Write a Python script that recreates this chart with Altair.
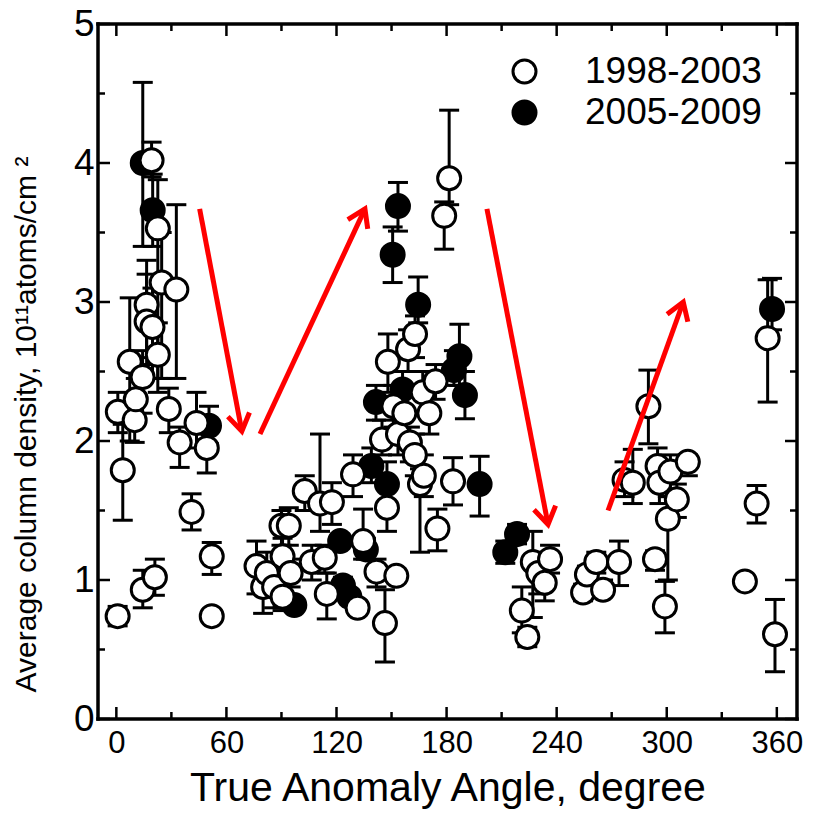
import math
import altair as alt
import pandas as pd

# ---------------- data ----------------
# 1998-2003 (open circles)
open_x = [0.7, 0.8, 3.5, 7.3, 10.0, 10.6, 14.3, 14.4, 16.5, 16.5, 19.2, 19.7, 21.0, 22.6, 22.6,
          24.7, 28.6, 32.7, 34.5, 41.0, 43.7, 49.3, 52.0, 52.0, 76.4, 80.0, 82.0, 86.0, 90.0,
          90.6, 90.6, 94.0, 95.0, 102.7, 106.5, 111.0, 113.6, 114.7, 117.5, 129.0, 131.5, 134.5,
          141.8, 144.8, 146.4, 147.5, 148.0, 151.0, 152.6, 153.5, 157.0, 159.0, 160.0, 162.7,
          162.8, 165.5, 167.0, 167.6, 170.6, 174.0, 175.0, 178.7, 181.4, 183.5, 221.0, 224.0,
          227.0, 230.0, 233.5, 236.4, 254.4, 256.5, 261.6, 265.3, 274.0, 277.0, 281.5, 290.0,
          293.6, 295.0, 296.0, 299.0, 300.6, 302.0, 305.5, 311.5, 342.6, 349.0, 355.0, 359.0]
open_y = [0.74, 2.21, 1.79, 2.57, 2.15, 2.30, 2.46, 0.93, 2.98, 2.86, 4.02, 2.82, 1.02, 3.53, 2.62,
          3.14, 2.23, 3.09, 1.99, 1.49, 2.13, 1.95, 1.17, 0.74, 1.10, 0.95, 1.05, 0.95, 1.39,
          1.17, 0.88, 1.39, 1.05, 1.64, 1.13, 1.55, 1.16, 0.90, 1.56, 1.76, 0.80, 1.28,
          1.06, 2.01, 0.69, 1.52, 2.57, 2.25, 1.03, 2.05, 2.20, 2.66, 1.99, 1.90,
          2.77, 1.69, 2.35, 1.75, 2.20, 2.43, 1.37, 3.62, 3.89, 1.71, 0.78, 0.59,
          1.13, 1.05, 0.98, 1.15, 0.91, 1.04, 1.13, 0.93, 1.13, 1.72, 1.70, 2.25,
          1.15, 1.82, 1.70, 0.81, 1.44, 1.78, 1.58, 1.85, 0.99, 1.55, 2.74, 0.61]
open_lo = [0.67, 2.06, 1.43, 2.00, 1.99, 2.15, 2.20, 0.80, 2.60, 2.55, 3.90, 2.45, 0.89, 2.45, 2.35,
           2.45, 2.06, 2.45, 1.81, 1.36, 1.95, 1.77, 1.04, 0.71, 0.90, 0.76, 0.90, 0.80, 1.25,
           1.05, 0.78, 1.25, 0.95, 1.50, 1.00, 1.35, 1.05, 0.72, 1.40, 1.60, 0.75, 1.15,
           0.95, 1.90, 0.41, 1.35, 2.35, 2.10, 0.98, 1.90, 2.05, 2.50, 1.85, 1.75,
           2.60, 1.20, 2.20, 1.60, 2.05, 2.30, 1.21, 3.38, 3.70, 1.54, 0.62, 0.52,
           0.73, 0.90, 0.85, 1.05, 0.85, 0.95, 1.05, 0.88, 0.96, 1.60, 1.55, 1.98,
           1.07, 1.70, 1.55, 0.62, 1.00, 1.60, 1.45, 1.75, 0.96, 1.41, 2.28, 0.34]
open_hi = [0.81, 2.35, 2.12, 3.03, 2.30, 2.45, 2.65, 1.07, 3.30, 3.20, 4.15, 3.10, 1.15, 3.88, 2.85,
           3.50, 2.38, 3.70, 2.10, 1.62, 2.35, 2.10, 1.27, 0.77, 1.28, 1.10, 1.20, 1.10, 1.50,
           1.30, 1.00, 1.52, 1.15, 1.75, 1.25, 2.05, 1.25, 1.05, 1.70, 1.90, 0.85, 1.51,
           1.15, 2.15, 0.93, 1.70, 2.77, 2.40, 1.08, 2.20, 2.35, 2.80, 2.10, 2.05,
           2.90, 1.80, 2.50, 1.90, 2.35, 2.55, 1.51, 3.72, 4.38, 1.88, 0.95, 0.66,
           1.35, 1.20, 1.10, 1.25, 0.97, 1.10, 1.20, 1.00, 1.28, 1.85, 1.94, 2.51,
           1.21, 1.95, 1.85, 0.99, 1.60, 1.90, 1.69, 1.90, 1.02, 1.68, 3.16, 0.86]

# 2005-2009 (filled circles)
filled_x = [14.4, 19.8, 50.5, 97.0, 122.0, 123.5, 127.0, 136.0, 139.0, 141.5, 147.5, 150.6,
            153.5, 156.0, 164.5, 184.0, 187.0, 190.0, 198.0, 212.0, 218.4, 357.4]
filled_y = [4.00, 3.66, 2.11, 0.82, 1.28, 0.96, 0.88, 1.22, 1.82, 2.28, 1.69, 3.34,
            3.69, 2.37, 2.98, 2.51, 2.61, 2.33, 1.69, 1.20, 1.33, 2.95]
filled_lo = [3.40, 3.40, 1.98, 0.79, 1.23, 0.90, 0.83, 1.15, 1.70, 2.15, 1.55, 3.14,
             3.51, 2.25, 2.85, 2.40, 2.40, 2.16, 1.46, 1.12, 1.26, 2.80]
filled_hi = [4.58, 3.92, 2.25, 0.85, 1.33, 1.02, 0.93, 1.30, 1.95, 2.40, 1.85, 3.54,
             3.86, 2.50, 3.18, 2.65, 2.84, 2.50, 1.89, 1.28, 1.40, 3.17]

series_names = ["1998-2003", "2005-2009"]

# red trend arrows (start -> tip), in data units
arrow_x0 = [45.4, 78.3, 202.0, 268.0]
arrow_y0 = [3.67, 2.05, 3.67, 1.50]
arrow_x1 = [68.4, 135.5, 235.3, 309.0]
arrow_y1 = [2.07, 3.67, 1.40, 3.00]

x_major = [0, 60, 120, 180, 240, 300, 360]
x_minor = [30, 90, 150, 210, 270, 330]
y_major = [0, 1, 2, 3, 4, 5]
y_minor = [0.5, 1.5, 2.5, 3.5, 4.5]

# ---------------- layout ----------------
W, H = 699, 695
XD = [-10, 371]
YD = [0, 5]
FONT = "Liberation Sans, Arial"

x_axis = alt.Axis(values=x_major, ticks=False, domain=False, grid=False,
                  labelFont=FONT, labelFontSize=31, labelPadding=9, labelColor="black",
                  title="True Anomaly Angle, degree", titleFont=FONT, titleFontSize=41,
                  titleFontWeight="normal", titleColor="black", titleY=81,
                  titleBaseline="alphabetic")
y_axis = alt.Axis(values=y_major, ticks=False, domain=False, grid=False,
                  labelFont=FONT, labelFontSize=37, labelPadding=4, labelColor="black",
                  labelBaseline="middle",
                  title="Average column density, 10\u00b9\u00b9atoms/cm \u00b2",
                  titleFont=FONT, titleFontSize=30, titleFontWeight="normal",
                  titleColor="black", titleAngle=270, titleX=-72, titleY=400,
                  titleAlign="center", titleBaseline="middle")

xs = alt.Scale(domain=XD, nice=False, zero=False)
ys = alt.Scale(domain=YD, nice=False, zero=False)


def X(f="x"):
    return alt.X(f"{f}:Q", scale=xs, axis=x_axis)


def Y(f="y"):
    return alt.Y(f"{f}:Q", scale=ys, axis=y_axis)


df_open = pd.DataFrame({"x": open_x, "y": open_y, "lo": open_lo, "hi": open_hi,
                        "series": series_names[0]})
df_fill = pd.DataFrame({"x": filled_x, "y": filled_y, "lo": filled_lo, "hi": filled_hi,
                        "series": series_names[1]})

fill_enc = alt.Fill("series:N",
                    scale=alt.Scale(domain=series_names, range=["white", "black"]),
                    legend=alt.Legend(title=None, orient="none", legendX=408, legendY=29,
                                      labelFont=FONT, labelFontSize=37, labelColor="black",
                                      labelLimit=0,
                                      symbolType="circle", symbolSize=530,
                                      symbolStrokeWidth=3, symbolStrokeColor="black",
                                      labelOffset=42, rowPadding=3, padding=0))


def series_layers(df):
    bars = alt.Chart(df).mark_rule(stroke="black", strokeWidth=3).encode(
        x=X(), y=Y("lo"), y2="hi:Q")
    cap_lo = alt.Chart(df).mark_tick(color="black", thickness=3, size=20,
                                     orient="horizontal", opacity=1).encode(x=X(), y=Y("lo"))
    cap_hi = alt.Chart(df).mark_tick(color="black", thickness=3, size=20,
                                     orient="horizontal", opacity=1).encode(x=X(), y=Y("hi"))
    pts = alt.Chart(df).mark_point(shape="circle", filled=True, size=530, stroke="black",
                                   strokeWidth=3, opacity=1).encode(
        x=X(), y=Y(), fill=fill_enc)
    return [bars, cap_lo, cap_hi, pts]


# arrows
sx = W / (XD[1] - XD[0])
sy = H / (YD[1] - YD[0])
angles = []
for a, b, c, d in zip(arrow_x0, arrow_y0, arrow_x1, arrow_y1):
    dx = (c - a) * sx
    dy = -(d - b) * sy
    angles.append(math.degrees(math.atan2(dx, -dy)) % 360)
df_arrow = pd.DataFrame({"x0": arrow_x0, "y0": arrow_y0, "x1": arrow_x1, "y1": arrow_y1,
                         "ang": angles})
shaft = alt.Chart(df_arrow).mark_rule(stroke="#ff0000", strokeWidth=5).encode(
    x=X("x0"), y=Y("y0"), x2="x1:Q", y2="y1:Q")
head = alt.Chart(df_arrow).mark_point(shape="M-0.55,0.85L0,0L0.55,0.85", filled=False,
                                      stroke="#ff0000", strokeWidth=5, size=1600,
                                      opacity=1).encode(
    x=X("x1"), y=Y("y1"), angle=alt.Angle("ang:Q", scale=None))

# frame ticks (inward)
df_xM = pd.DataFrame({"x": x_major})
df_xm = pd.DataFrame({"x": x_minor})
df_yM = pd.DataFrame({"y": y_major})
df_ym = pd.DataFrame({"y": y_minor})
tick_layers = []
for dfx, L in ((df_xM, 12), (df_xm, 7)):
    tick_layers.append(alt.Chart(dfx).mark_rule(stroke="black", strokeWidth=2.5).encode(
        x=X(), y=alt.value(H), y2=alt.value(H - L)))
    tick_layers.append(alt.Chart(dfx).mark_rule(stroke="black", strokeWidth=2.5).encode(
        x=X(), y=alt.value(0), y2=alt.value(L)))
for dfy, L in ((df_yM, 12), (df_ym, 7)):
    tick_layers.append(alt.Chart(dfy).mark_rule(stroke="black", strokeWidth=2.5).encode(
        y=Y(), x=alt.value(0), x2=alt.value(L)))
    tick_layers.append(alt.Chart(dfy).mark_rule(stroke="black", strokeWidth=2.5).encode(
        y=Y(), x=alt.value(W), x2=alt.value(W - L)))

# plot frame
frame_df = pd.DataFrame({"k": [0]})
frame = [
    alt.Chart(frame_df).mark_rule(stroke="black", strokeWidth=3.5, strokeCap="square").encode(
        x=alt.value(0), y=alt.value(0), y2=alt.value(H)),
    alt.Chart(frame_df).mark_rule(stroke="black", strokeWidth=3.5, strokeCap="square").encode(
        x=alt.value(W), y=alt.value(0), y2=alt.value(H)),
    alt.Chart(frame_df).mark_rule(stroke="black", strokeWidth=3.5, strokeCap="square").encode(
        y=alt.value(0), x=alt.value(0), x2=alt.value(W)),
    alt.Chart(frame_df).mark_rule(stroke="black", strokeWidth=3.5, strokeCap="square").encode(
        y=alt.value(H), x=alt.value(0), x2=alt.value(W)),
]

layers = tick_layers + frame + series_layers(df_fill) + series_layers(df_open) + [shaft, head]

chart = alt.layer(*layers).properties(
    width=W, height=H,
    autosize=alt.AutoSizeParams(type="none"),
    padding={"left": 98, "top": 24, "right": 16, "bottom": 94},
).configure(font=FONT, background="white").configure_view(stroke=None)

chart.save("out.html", embed_options={"renderer": "svg", "actions": False})
